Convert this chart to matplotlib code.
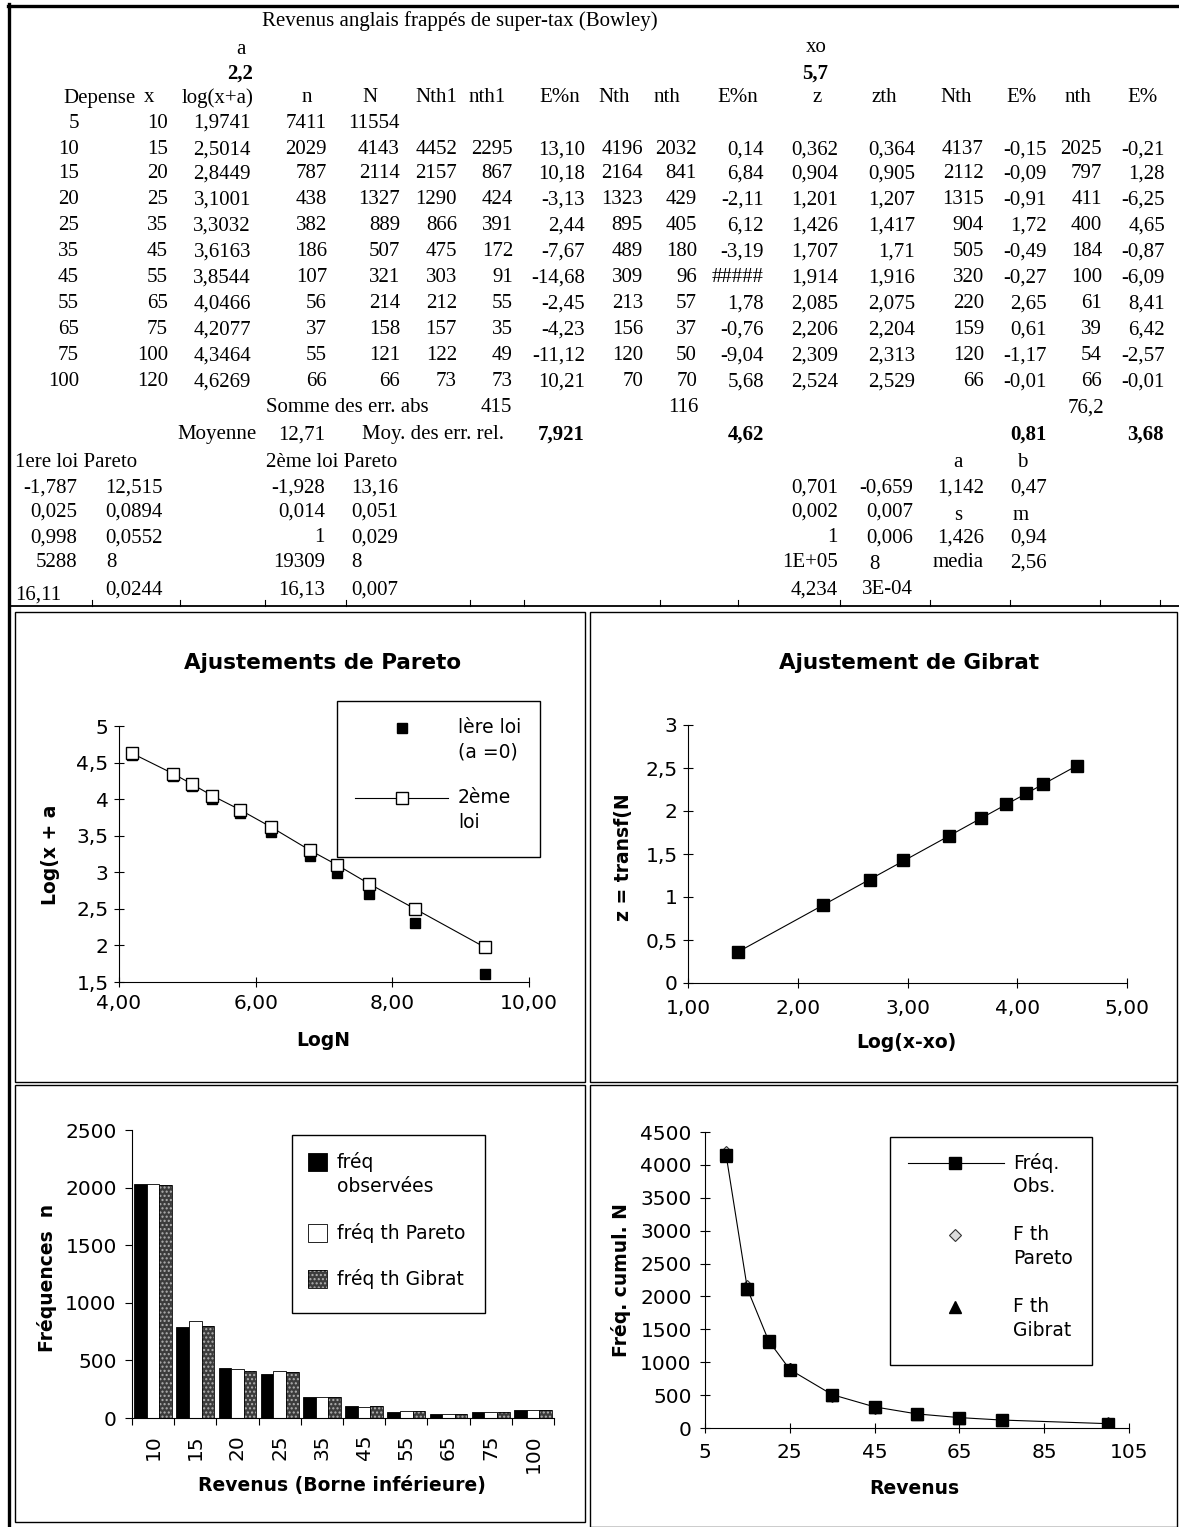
import numpy as np
import matplotlib
matplotlib.use("Agg")
import matplotlib.pyplot as plt
from matplotlib.ticker import FuncFormatter, MultipleLocator, FixedLocator
from matplotlib.lines import Line2D
from matplotlib.patches import Rectangle

# ---- donnees du tableau (Bowley) ----
depense = [5, 10, 15, 20, 25, 35, 45, 55, 65, 75, 100]
x_sup = [10, 15, 20, 25, 35, 45, 55, 65, 75, 100, 120]
log_xa = ["1,9741", "2,5014", "2,8449", "3,1001", "3,3032", "3,6163",
          "3,8544", "4,0466", "4,2077", "4,3464", "4,6269"]
n_obs = [7411, 2029, 787, 438, 382, 186, 107, 56, 37, 55, 66]
N_cum = [11554, 4143, 2114, 1327, 889, 507, 321, 214, 158, 121, 66]

# 1ere loi de Pareto (lignes 10 a 100)
Nth1 = [4452, 2157, 1290, 866, 475, 303, 212, 157, 122, 73]
nth1 = [2295, 867, 424, 391, 172, 91, 55, 35, 49, 73]
E_n1 = ["13,10", "10,18", "-3,13", "2,44", "-7,67", "-14,68", "-2,45",
        "-4,23", "-11,12", "10,21"]
# 2eme loi de Pareto
Nth2 = [4196, 2164, 1323, 895, 489, 309, 213, 156, 120, 70]
nth2 = [2032, 841, 429, 405, 180, 96, 57, 37, 50, 70]
E_n2 = ["0,14", "6,84", "-2,11", "6,12", "-3,19", "#####", "1,78",
        "-0,76", "-9,04", "5,68"]
# Gibrat
z_obs = ["0,362", "0,904", "1,201", "1,426", "1,707", "1,914", "2,085",
         "2,206", "2,309", "2,524"]
z_th = ["0,364", "0,905", "1,207", "1,417", "1,71", "1,916", "2,075",
        "2,204", "2,313", "2,529"]
Nth_g = [4137, 2112, 1315, 904, 505, 320, 220, 159, 120, 66]
E_Ng = ["-0,15", "-0,09", "-0,91", "1,72", "-0,49", "-0,27", "2,65",
        "0,61", "-1,17", "-0,01"]
nth_g = [2025, 797, 411, 400, 184, 100, 61, 39, 54, 66]
E_ng = ["-0,21", "1,28", "-6,25", "4,65", "-0,87", "-6,09", "8,41",
        "6,42", "-2,57", "-0,01"]

# valeurs des graphiques
log_N = [9.355, 8.329, 7.656, 7.191, 6.790, 6.229, 5.771, 5.366, 5.063, 4.796, 4.190]
log_x = [1.609, 2.303, 2.708, 2.996, 3.219, 3.555, 3.807, 4.007, 4.174, 4.317, 4.605]
log_x_xo = [1.459, 2.230, 2.660, 2.960, 3.378, 3.671, 3.898, 4.083, 4.238, 4.547]
revenus_cat = ["10", "15", "20", "25", "35", "45", "55", "65", "75", "100"]
revenus_ticks = [5, 25, 45, 65, 85, 105]


def num(s):
    return float(s.replace(",", "."))


W, H = 1179, 1527
fig = plt.figure(figsize=(W / 100, H / 100), dpi=100)
SERIF = "Liberation Serif"
SANS = "DejaVu Sans"


def fx(x):
    return x / W


def fy(y):
    return 1 - y / H


def rect(l, t, r, b):
    return [l / W, 1 - b / H, (r - l) / W, (b - t) / H]


def cell(x, y, s, ha="right", bold=False, size=15):
    fig.text(fx(x), fy(y), str(s), ha=ha, va="center", family=SERIF,
             fontsize=size, weight="bold" if bold else "normal")


def hline(x1, x2, y, lw=1.0):
    fig.add_artist(Line2D([fx(x1), fx(x2)], [fy(y), fy(y)], color="black",
                          lw=lw, transform=fig.transFigure))


def vline(x, y1, y2, lw=1.0):
    fig.add_artist(Line2D([fx(x), fx(x)], [fy(y1), fy(y2)], color="black",
                          lw=lw, transform=fig.transFigure))


def box(l, t, r, b, lw=1.0):
    fig.add_artist(Rectangle((fx(l), fy(b)), (r - l) / W, (b - t) / H,
                             fill=False, ec="black", lw=lw,
                             transform=fig.transFigure))


# ---- tableau ----
cell(460, 21, "Revenus anglais frappés de super-tax (Bowley)", ha="center")
cell(241, 50, "a", ha="center")
cell(253, 74, "2,2", bold=True)
cell(816, 47, "xo", ha="center")
cell(828, 74, "5,7", bold=True)

headers = [(136, "Depense", "right"), (149, "x", "center"), (253, "log(x+a)", "right"),
           (307, "n", "center"), (370, "N", "center"), (457, "Nth1", "right"),
           (506, "nth1", "right"), (580, "E%n", "right"), (630, "Nth", "right"),
           (680, "nth", "right"), (758, "E%n", "right"), (817, "z", "center"),
           (897, "zth", "right"), (972, "Nth", "right"), (1037, "E%", "right"),
           (1091, "nth", "right"), (1158, "E%", "right")]
for hx, txt, ha in headers:
    cell(hx, 98, txt, ha=ha)

rows_y = [123, 150, 174, 200, 226, 252, 278, 304, 330, 356, 382]
for i, y in enumerate(rows_y):
    cell(79, y, depense[i])
    cell(168, y, x_sup[i])
    cell(251, y, log_xa[i])
    cell(327, y, n_obs[i])
    cell(400, y, N_cum[i])
    if i == 0:
        continue
    j = i - 1
    for xr, col in [(457, Nth1), (513, nth1), (585, E_n1), (643, Nth2),
                    (697, nth2), (764, E_n2), (838, z_obs), (915, z_th),
                    (984, Nth_g), (1047, E_Ng), (1102, nth_g), (1165, E_ng)]:
        cell(xr, y, col[j])

cell(266, 408, "Somme des err. abs", ha="left")
cell(512, 408, "415")
cell(699, 408, "116")
cell(1104, 408, "76,2")
cell(257, 435, "Moyenne")
cell(325, 435, "12,71")
cell(362, 435, "Moy. des err. rel.", ha="left")
cell(585, 435, "7,921", bold=True)
cell(764, 435, "4,62", bold=True)
cell(1047, 435, "0,81", bold=True)
cell(1164, 435, "3,68", bold=True)

cell(15, 462, "1ere loi Pareto", ha="left")
cell(266, 462, "2ème loi Pareto", ha="left")
cell(958, 462, "a", ha="center")
cell(1022, 462, "b", ha="center")
low_y = [488, 512, 538, 563, 590]
p1_a = ["-1,787", "0,025", "0,998", "5288", ""]
p1_b = ["12,515", "0,0894", "0,0552", "", "0,0244"]
p2_a = ["-1,928", "0,014", "1", "19309", "16,13"]
p2_b = ["13,16", "0,051", "0,029", "8", "0,007"]
g_a = ["0,701", "0,002", "1", "1E+05", "4,234"]
g_b = ["-0,659", "0,007", "0,006", "", "3E-04"]
g_c = ["1,142", "", "1,426", "media", ""]
g_d = ["0,47", "", "0,94", "2,56", ""]
for k, y in enumerate(low_y):
    cell(77, y, p1_a[k])
    cell(163, y, p1_b[k])
    cell(325, y, p2_a[k])
    cell(351, y, p2_b[k], ha="left")
    cell(838, y, g_a[k])
    cell(913, y, g_b[k])
    cell(984, y, g_c[k])
    cell(1047, y, g_d[k])
cell(106, 563, "8", ha="left")
cell(15, 595, "16,11", ha="left")
cell(869, 565, "8", ha="left")
cell(958, 515, "s", ha="center")
cell(1021, 515, "m", ha="center")

# cadres
hline(8, 1179, 6, lw=2.4)
vline(9, 4, 1527, lw=2.4)
hline(9, 1179, 606, lw=1.3)
for tx in [92, 180, 265, 346, 470, 524, 660, 738, 840, 930, 1010, 1100, 1160]:
    vline(tx, 600, 606, lw=0.8)
box(15, 612, 585, 1082)
box(590, 612, 1177, 1082)
box(15, 1085, 585, 1522)
box(590, 1085, 1177, 1527)


def style(ax):
    for s in ["top", "right"]:
        ax.spines[s].set_visible(False)
    for s in ["left", "bottom"]:
        ax.spines[s].set_linewidth(0.8)
    ax.tick_params(labelsize=14.5, width=0.8)
    for lab in ax.get_xticklabels() + ax.get_yticklabels():
        lab.set_family(SANS)


comma2 = FuncFormatter(lambda v, p: f"{v:.2f}".replace(".", ","))
commag = FuncFormatter(lambda v, p: f"{v:g}".replace(".", ","))

# ---- Ajustements de Pareto ----
ax1 = fig.add_axes(rect(119, 726, 529, 982))
ax1.plot(log_N, log_x, ls="none", marker="s", ms=7.5, mfc="black", mec="black")
ax1.plot(log_N, [num(v) for v in log_xa], color="black", lw=0.8, marker="s",
         ms=9, mfc="white", mec="black", mew=1.0)
ax1.set_xlim(4, 10)
ax1.set_ylim(1.5, 5)
ax1.xaxis.set_major_locator(MultipleLocator(2))
ax1.yaxis.set_major_locator(MultipleLocator(0.5))
ax1.xaxis.set_major_formatter(comma2)
ax1.yaxis.set_major_formatter(commag)
ax1.tick_params(direction="inout", length=7)
ax1.tick_params(axis="x", pad=5)
ax1.tick_params(axis="y", pad=4)
style(ax1)
fig.text(fx(323), fy(663), "Ajustements de Pareto", ha="center", va="center",
         family=SANS, fontsize=15.5, weight="bold")
fig.text(fx(323), fy(1040), "LogN", ha="center", va="center", family=SANS,
         fontsize=13.5, weight="bold")
fig.text(fx(51), fy(855), "Log(x + a", ha="center", va="center", rotation=90,
         family=SANS, fontsize=13.5, weight="bold")
box(337, 701, 540, 857)
fig.add_artist(Line2D([fx(402)], [fy(728)], ls="none", marker="s", ms=7.5,
                      mfc="black", mec="black", transform=fig.transFigure))
fig.add_artist(Line2D([fx(355), fx(448)], [fy(798), fy(798)], color="black",
                      lw=0.8, transform=fig.transFigure))
fig.add_artist(Line2D([fx(402)], [fy(798)], ls="none", marker="s", ms=9,
                      mfc="white", mec="black", transform=fig.transFigure))
for ty, txt in [(728, "lère loi"), (752, "(a =0)"), (798, "2ème"), (823, "loi")]:
    fig.text(fx(458), fy(ty), txt, ha="left", va="center", family=SANS, fontsize=13.5)

# ---- Ajustement de Gibrat ----
ax2 = fig.add_axes(rect(688, 725, 1127, 983))
ax2.plot(log_x_xo, [num(v) for v in z_th], color="black", lw=0.8)
ax2.plot(log_x_xo, [num(v) for v in z_obs], ls="none", marker="s", ms=8,
         mfc="black", mec="black")
ax2.set_xlim(1, 5)
ax2.set_ylim(0, 3)
ax2.xaxis.set_major_locator(MultipleLocator(1))
ax2.yaxis.set_major_locator(MultipleLocator(0.5))
ax2.xaxis.set_major_formatter(comma2)
ax2.yaxis.set_major_formatter(commag)
ax2.tick_params(direction="inout", length=7)
ax2.tick_params(axis="x", pad=8)
ax2.tick_params(axis="y", pad=4)
style(ax2)
fig.text(fx(909), fy(663), "Ajustement de Gibrat", ha="center", va="center",
         family=SANS, fontsize=15.5, weight="bold")
fig.text(fx(906), fy(1043), "Log(x-xo)", ha="center", va="center", family=SANS,
         fontsize=13.5, weight="bold")
fig.text(fx(623), fy(857), "z = transf(N", ha="center", va="center", rotation=90,
         family=SANS, fontsize=13.5, weight="bold")

# ---- Frequences n ----
ax3 = fig.add_axes(rect(132, 1130, 554, 1418))
pos = np.arange(len(revenus_cat))
bw = 0.3
ax3.bar(pos - bw, n_obs[1:], bw, color="black", ec="black", lw=0.6)
ax3.bar(pos, nth2, bw, color="white", ec="black", lw=0.6)
ax3.bar(pos + bw, nth_g, bw, color="#3c3c3c", ec="#b0b0b0", lw=0, hatch="....")
ax3.bar(pos + bw, nth_g, bw, fill=False, ec="black", lw=0.6)
ax3.set_xlim(-0.5, len(revenus_cat) - 0.5)
ax3.set_ylim(0, 2500)
ax3.yaxis.set_major_locator(MultipleLocator(500))
ax3.set_xticks(pos)
ax3.set_xticklabels(revenus_cat, rotation=90)
ax3.xaxis.set_minor_locator(FixedLocator(np.arange(-0.5, len(revenus_cat), 1)))
ax3.tick_params(axis="x", which="major", length=0, pad=12)
ax3.tick_params(axis="x", which="minor", direction="out", length=5, width=0.8)
ax3.tick_params(axis="y", direction="out", length=5, pad=6)
style(ax3)
fig.text(fx(342), fy(1485), "Revenus (Borne inférieure)", ha="center", va="center",
         family=SANS, fontsize=13.5, weight="bold")
fig.text(fx(47), fy(1278), "Fréquences  n", ha="center", va="center", rotation=90,
         family=SANS, fontsize=13.5, weight="bold")
box(292, 1135, 485, 1313)
fig.add_artist(Rectangle((fx(308), fy(1171)), 19 / W, 18 / H, fc="black", ec="black",
                         lw=0.6, transform=fig.transFigure))
fig.add_artist(Rectangle((fx(308), fy(1242)), 19 / W, 18 / H, fc="white", ec="black",
                         lw=0.6, transform=fig.transFigure))
fig.add_artist(Rectangle((fx(308), fy(1288)), 19 / W, 18 / H, fc="#3c3c3c",
                         ec="#b0b0b0", lw=0, hatch="....", transform=fig.transFigure))
fig.add_artist(Rectangle((fx(308), fy(1288)), 19 / W, 18 / H, fill=False, ec="black",
                         lw=0.6, transform=fig.transFigure))
for ty, txt in [(1162, "fréq"), (1186, "observées"), (1233, "fréq th Pareto"),
                (1279, "fréq th Gibrat")]:
    fig.text(fx(337), fy(ty), txt, ha="left", va="center", family=SANS, fontsize=13.5)

# ---- Frequences cumulees ----
ax4 = fig.add_axes(rect(705, 1132, 1129, 1428))
ax4.plot(depense[1:], Nth2, ls="none", marker="D", ms=6, mfc="#dddddd",
         mec="#333333", mew=0.8)
ax4.plot(depense[1:], Nth_g, ls="none", marker="^", ms=8, mfc="black", mec="black")
ax4.plot(depense[1:], N_cum[1:], color="black", lw=0.8, marker="s", ms=8,
         mfc="black", mec="black")
ax4.set_xlim(5, 105)
ax4.set_ylim(0, 4500)
ax4.xaxis.set_major_locator(FixedLocator(revenus_ticks))
ax4.yaxis.set_major_locator(MultipleLocator(500))
ax4.tick_params(direction="inout", length=7)
ax4.tick_params(axis="x", pad=7)
ax4.tick_params(axis="y", pad=6)
style(ax4)
fig.text(fx(914), fy(1488), "Revenus", ha="center", va="center", family=SANS,
         fontsize=13.5, weight="bold")
fig.text(fx(621), fy(1280), "Fréq. cumul. N", ha="center", va="center", rotation=90,
         family=SANS, fontsize=13.5, weight="bold")
box(890, 1137, 1092, 1365)
fig.add_artist(Line2D([fx(908), fx(1004)], [fy(1163), fy(1163)], color="black",
                      lw=0.8, transform=fig.transFigure))
fig.add_artist(Line2D([fx(955)], [fy(1163)], ls="none", marker="s", ms=8,
                      mfc="black", mec="black", transform=fig.transFigure))
fig.add_artist(Line2D([fx(955)], [fy(1235)], ls="none", marker="D", ms=6,
                      mfc="#dddddd", mec="#333333", mew=0.8, transform=fig.transFigure))
fig.add_artist(Line2D([fx(955)], [fy(1307)], ls="none", marker="^", ms=8,
                      mfc="black", mec="black", transform=fig.transFigure))
for ty, txt in [(1163, "Fréq."), (1187, "Obs."), (1235, "F th"), (1259, "Pareto"),
                (1307, "F th"), (1331, "Gibrat")]:
    fig.text(fx(1013), fy(ty), txt, ha="left", va="center", family=SANS, fontsize=13.5)

fig.savefig("out.png", dpi=100)
